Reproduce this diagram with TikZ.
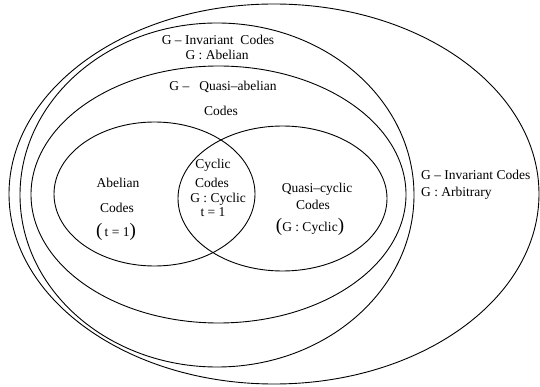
\documentclass[tikz,border=0pt]{standalone}
\usepackage{fontspec}
\setmainfont{Liberation Serif}
\usetikzlibrary{shapes.geometric}
\begin{document}
\begin{tikzpicture}[x=1pt,y=-1pt,
  setline/.style={draw=black, line width=0.9pt, ellipse, inner sep=0pt, minimum width=#1},
  lbl/.style={inner sep=0pt, font=\fontsize{13.5}{15}\selectfont}]
\useasboundingbox (0,0) rectangle (540,387);
% sets
\node[setline=530pt, minimum height=380pt] (arb) at (274,194) {};
\node[setline=394pt, minimum height=344pt] (abinv) at (217,195) {};
\node[setline=375pt, minimum height=257pt] (qab) at (218.5,194.5) {};
\node[setline=201pt, minimum height=144pt] (ab) at (154.5,194) {};
\node[setline=209pt, minimum height=145pt] (qc) at (282.5,198.5) {};
% labels
\node[lbl] (t1) at (218,40) {G\ –\ Invariant\ \ Codes};
\node[lbl] (t2) at (217,55) {G : Abelian};
\node[lbl] (t3) at (223,87) {G\ –\ \ \ Quasi–abelian};
\node[lbl] (t4) at (221,111) {Codes};
\node[lbl] (t5) at (118,183) {Abelian};
\node[lbl] (t6) at (117,208) {Codes};
\node[lbl] (t7) at (116,232) {{\fontsize{19}{19}\selectfont(}\,t = 1{\fontsize{19}{19}\selectfont)}};
\node[lbl] (t8) at (213,165) {Cyclic};
\node[lbl] (t9) at (212,183) {Codes};
\node[lbl] (t10) at (218,199) {G : Cyclic};
\node[lbl] (t11) at (213,212) {t = 1};
\node[lbl] (t12) at (317,189) {Quasi–cyclic};
\node[lbl] (t13) at (313,205) {Codes};
\node[lbl] (t14) at (310,227) {{\fontsize{19}{19}\selectfont(}G : Cyclic{\fontsize{19}{19}\selectfont)}};
\node[lbl, anchor=west] (t15) at (421,175) {G\ –\ Invariant\ Codes};
\node[lbl, anchor=west] (t16) at (421,193) {G : Arbitrary};
\end{tikzpicture}
\end{document}
